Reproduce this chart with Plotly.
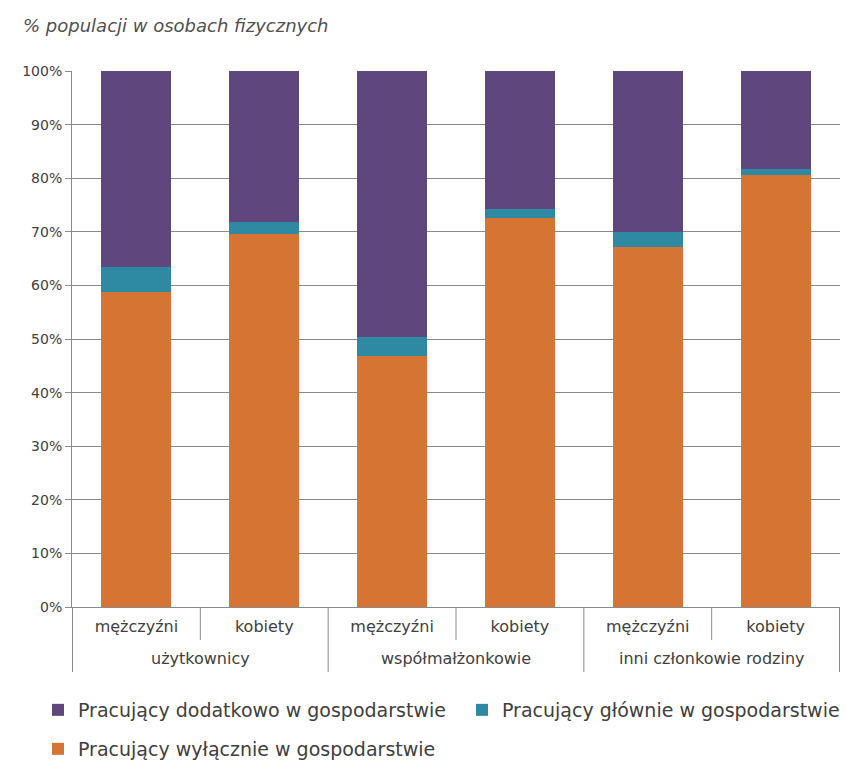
import plotly.graph_objects as go

groups = ["użytkownicy", "użytkownicy", "współmałżonkowie", "współmałżonkowie",
          "inni członkowie rodziny", "inni członkowie rodziny"]
sexes = ["mężczyźni", "kobiety", "mężczyźni", "kobiety", "mężczyźni", "kobiety"]

wylacznie = [58.7, 69.6, 46.8, 72.6, 67.2, 80.6]
glownie = [4.8, 2.3, 3.6, 1.7, 2.8, 1.2]
dodatkowo = [36.5, 28.1, 49.6, 25.7, 30.0, 18.2]

names = ["Pracujący wyłącznie w gospodarstwie",
         "Pracujący głównie w gospodarstwie",
         "Pracujący dodatkowo w gospodarstwie"]
colors = ["#D67433", "#2E89A2", "#5F467D"]

y_ticks = [0, 10, 20, 30, 40, 50, 60, 70, 80, 90, 100]
y_labels = ["0%", "10%", "20%", "30%", "40%", "50%", "60%", "70%", "80%", "90%", "100%"]
title_text = "% populacji w osobach fizycznych"

FONT = "DejaVu Sans"
GRAY = "#8a8a8a"
TXT = "#404040"

W, H = 846, 760
L, R, T, B = 72, 6, 71, 153
PH = H - T - B

# unique category keys built from the two label lists
keys = [g + "|" + s for g, s in zip(groups, sexes)]

fig = go.Figure()
fig.add_trace(go.Bar(x=keys, y=wylacznie, name=names[0],
                     marker=dict(color=colors[0], line=dict(width=0)),
                     legend="legend3", showlegend=True))
fig.add_trace(go.Bar(x=keys, y=glownie, name=names[1],
                     marker=dict(color=colors[1], line=dict(width=0)),
                     legend="legend2", showlegend=True))
fig.add_trace(go.Bar(x=keys, y=dodatkowo, name=names[2],
                     marker=dict(color=colors[2], line=dict(width=0)),
                     legend="legend", showlegend=True))

leg_common = dict(orientation="h", xref="container", yref="container",
                  xanchor="left", yanchor="middle", itemwidth=30,
                  font=dict(family=FONT, size=19, color=TXT),
                  bgcolor="rgba(0,0,0,0)")

fig.update_layout(
    width=W, height=H,
    showlegend=True,
    margin=dict(l=L, r=R, t=T, b=B, autoexpand=False),
    paper_bgcolor="white", plot_bgcolor="white",
    barmode="stack", bargap=0.453,
    font=dict(family=FONT, color=TXT),
    title=dict(text=title_text, x=23 / W, xref="container", xanchor="left",
               y=1 - 26 / H, yref="container", yanchor="middle",
               font=dict(family=FONT, size=18, style="italic", color="#505050")),
    xaxis=dict(type="category", categoryorder="array", categoryarray=keys,
               tickvals=keys, ticktext=sexes,
               showline=True, linecolor=GRAY, linewidth=1,
               ticks="", ticklabelstandoff=5,
               tickfont=dict(family=FONT, size=16, color=TXT),
               showgrid=False, automargin=False),
    yaxis=dict(range=[0, 100], tickvals=y_ticks, ticktext=y_labels,
               showline=True, linecolor=GRAY, linewidth=1,
               showgrid=True, gridcolor=GRAY, gridwidth=1,
               ticks="outside", ticklen=6, tickcolor=GRAY,
               tickfont=dict(family=FONT, size=14, color=TXT),
               zeroline=False, automargin=False),
    legend=dict(x=38 / W, y=1 - 710 / H, **leg_common),
    legend2=dict(x=462 / W, y=1 - 710 / H, **leg_common),
    legend3=dict(x=38 / W, y=1 - 749 / H, **leg_common),
)

# group labels (second row), centred under each pair of bars
seen = []
for i, g in enumerate(groups):
    if g in seen:
        continue
    seen.append(g)
    idx = [j for j, gg in enumerate(groups) if gg == g]
    fig.add_annotation(x=(idx[0] + idx[-1]) / 2, xref="x", y=-(658 - 607) / PH,
                       yref="paper", text=g, showarrow=False, yanchor="middle",
                       font=dict(family=FONT, size=16, color=TXT))

# dividers: long ones between groups, short ones between subcategories
n = len(keys)
for k in range(n + 1):
    pos = k - 0.5
    long_div = (k == 0 or k == n or groups[k] != groups[k - 1])
    fig.add_shape(type="line", xref="x", yref="paper",
                  x0=pos, x1=pos, y0=0,
                  y1=-(65 if long_div else 33) / PH,
                  line=dict(color=GRAY, width=1))

fig.write_html("out.html", config={"displayModeBar": False},
               post_script="document.body.style.margin='0';")
